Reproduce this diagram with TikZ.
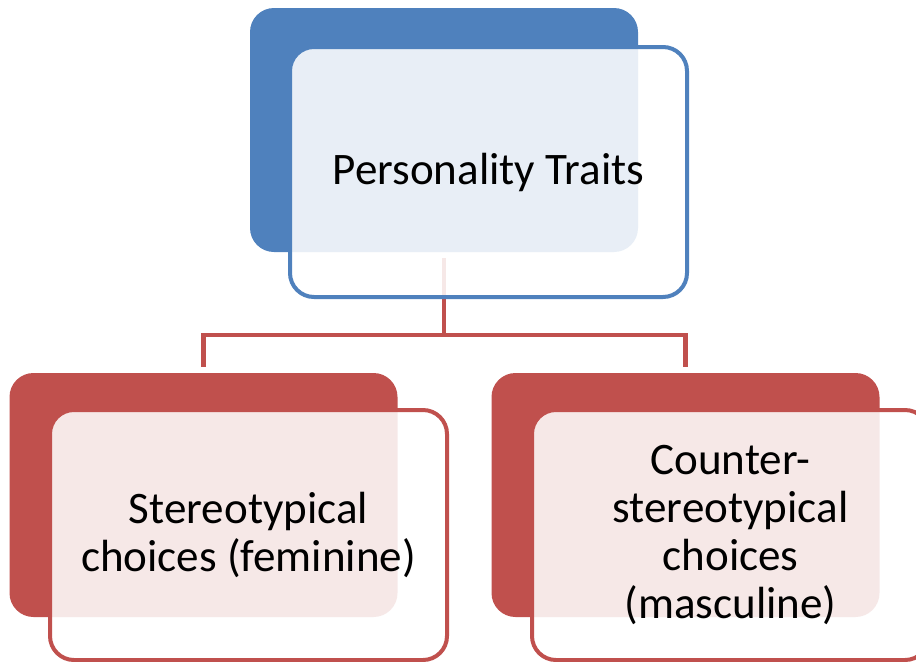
\documentclass[tikz,border=0pt]{standalone}
\usepackage{fontspec}
\setmainfont{Carlito}
\usetikzlibrary{positioning}
\definecolor{bluebox}{HTML}{4F81BD}
\definecolor{redbox}{HTML}{C0504D}

\begin{document}
\begin{tikzpicture}[x=0.75pt,y=-0.75pt, every node/.style={align=center},
  backbox/.style={fill=#1, rounded corners=18pt, minimum width=291pt, minimum height=183pt, inner sep=0pt},
  frontbox/.style={draw=#1, line width=3pt, fill=white, fill opacity=0.87, text opacity=1,
    rounded corners=18pt, minimum width=297.75pt, minimum height=187.5pt, inner sep=0pt,
    font=\fontsize{33.8}{36.2}\selectfont},
  link/.style={draw=redbox, line width=3.6pt, shorten <=4.5pt, shorten >=4.5pt}]
  \useasboundingbox (0,0) rectangle (916,661);
  % back boxes
  \node[backbox=bluebox] (topback) at (444,130) {};
  \node[backbox=redbox] (leftback) at (203.5,495) {};
  \node[backbox=redbox] (rightback) at (685.5,495) {};
  % connectors
  \coordinate (fork) at (444,335);
  \draw[link] (topback.south) -- (fork) -| (leftback.north);
  \draw[link] (topback.south) -- (fork) -| (rightback.north);
  % front boxes
  \node[frontbox=bluebox] (top) at (488.5,172) {Personality Traits};
  \node[frontbox=redbox] (left) at (248.5,535) {Stereotypical\\choices (feminine)};
  \node[frontbox=redbox] (right) at (730.5,535) {Counter-\\stereotypical\\choices\\(masculine)};
\end{tikzpicture}
\end{document}
